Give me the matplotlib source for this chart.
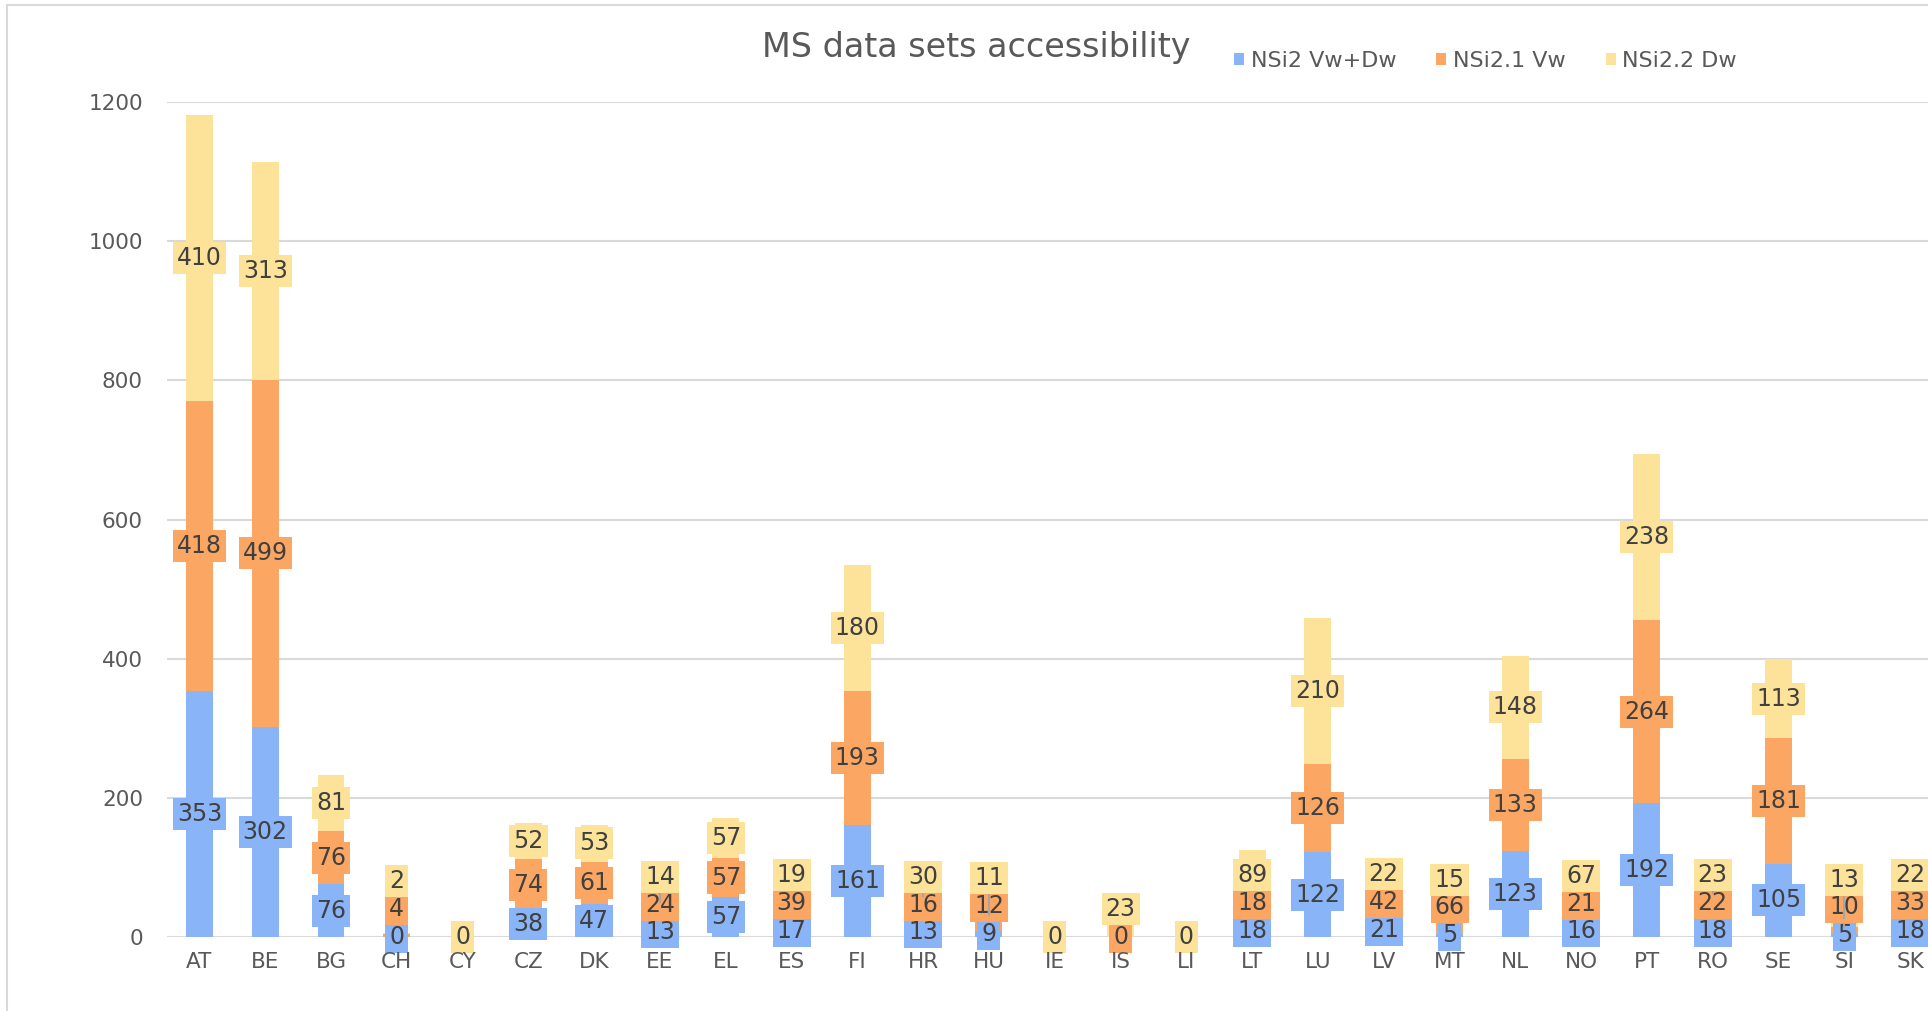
import numpy as np
import matplotlib.pyplot as plt
from matplotlib.patches import Rectangle

countries = ['AT', 'BE', 'BG', 'CH', 'CY', 'CZ', 'DK', 'EE', 'EL', 'ES', 'FI', 'HR', 'HU', 'IE',
             'IS', 'LI', 'LT', 'LU', 'LV', 'MT', 'NL', 'NO', 'PT', 'RO', 'SE', 'SI', 'SK']
# None = no value in the source table (no label shown)
vw_dw = [353, 302, 76, 0, None, 38, 47, 13, 57, 17, 161, 13, 9, None,
         None, None, 18, 122, 21, 5, 123, 16, 192, 18, 105, 5, 18]
vw = [418, 499, 76, 4, None, 74, 61, 24, 57, 39, 193, 16, 12, None,
      0, None, 18, 126, 42, 66, 133, 21, 264, 22, 181, 10, 33]
dw = [410, 313, 81, 2, 0, 52, 53, 14, 57, 19, 180, 30, 11, 0,
      23, 0, 89, 210, 22, 15, 148, 67, 238, 23, 113, 13, 22]

series_names = ['NSi2 Vw+Dw', 'NSi2.1 Vw', 'NSi2.2 Dw']
colors = ['#8AB4F8', '#FBA662', '#FDE39A']

SEP = 40    # min distance between stacked labels (data units)
HALF = 22   # half height of a label box (data units)

fig = plt.figure(figsize=(19.28, 10.11), dpi=100)
ax = fig.add_axes([166.5 / 1928, 74 / 1011, (1943 - 166.5) / 1928, 835 / 1011])

x = np.arange(len(countries))
bottom = np.zeros(len(countries))
last_label = np.full(len(countries), -np.inf)

for k, (name, vals, color) in enumerate(zip(series_names, [vw_dw, vw, dw], colors)):
    v = np.array([np.nan if a is None else a for a in vals], dtype=float)
    h = np.nan_to_num(v)
    ax.bar(x, h, bottom=bottom, width=0.41, color=color, label=name, zorder=2)
    for i in range(len(x)):
        if np.isnan(v[i]):
            continue
        natural = bottom[i] + h[i] / 2
        y = max(natural, last_label[i] + SEP)
        last_label[i] = y
        ax.text(x[i], y, f'{int(v[i])}', ha='center', va='center', fontsize=17,
                color='#404040', zorder=5 + k,
                bbox=dict(boxstyle='square,pad=0.17', fc=color, ec='none'))
        top = bottom[i] + h[i]
        if h[i] >= 5 and y - HALF > top:
            ax.plot([x[i], x[i]], [top, y - HALF], color='#A6A6A6', lw=1.5,
                    zorder=4.5 + k)
    bottom += h

# Format plot.
ax.set_xlim(-0.5, 26.5)
ax.set_ylim(0, 1200)
ax.set_yticks(range(0, 1201, 200))
ax.set_xticks(x)
ax.set_xticklabels(countries)
ax.yaxis.grid(True, color='#D9D9D9', lw=1.5)
ax.set_axisbelow(True)
ax.xaxis.set_zorder(10)
for s in ax.spines.values():
    s.set_visible(False)
ax.tick_params(axis='both', length=0, labelsize=15.5, colors='#595959')
ax.tick_params(axis='x', pad=11)
ax.tick_params(axis='y', pad=17)

fig.text(976 / 1928, 1 - 47 / 1011, 'MS data sets accessibility', fontsize=24,
         color='#595959', ha='center', va='center')
fig.legend(loc='center left', bbox_to_anchor=(1234 / 1928, 1 - 61 / 1011), ncol=3,
           frameon=False, fontsize=16, labelcolor='#595959', handlelength=0.45,
           handleheight=0.45, handletextpad=0.3, columnspacing=1.8,
           borderaxespad=0, borderpad=0)

fig.add_artist(Rectangle((7 / 1928, -0.1), 2, 1.095 - 5 / 1011 + 0.005,
                         transform=fig.transFigure, fill=False,
                         ec='#D9D9D9', lw=1.5))

fig.savefig('out.png', dpi=100)
